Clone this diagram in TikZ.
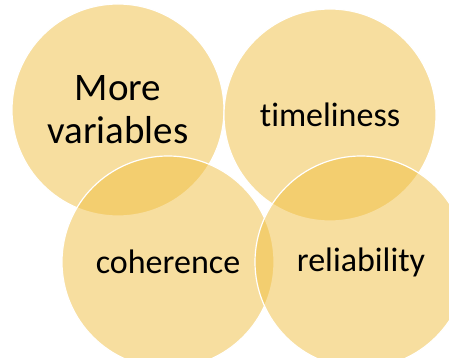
\documentclass[tikz,border=0pt]{standalone}
\usepackage{fontspec}
\setmainfont{Carlito}[Ligatures={NoCommon}]
\definecolor{gold}{RGB}{241,191,65}
\begin{document}
\begin{tikzpicture}[x=1pt,y=1pt]

        \clip (0,0) rectangle (449,358);
        \fill[white] (0,0) rectangle (449,358);

        \begin{scope}[every node/.style={circle,minimum size=212pt,inner sep=0pt,
            fill=gold,fill opacity=.5,text opacity=1,draw=white,draw opacity=1,
            line width=1.2pt,align=center,font=\fontsize{34}{37}\selectfont}]
          \node[font=\fontsize{39}{43}\selectfont] (more) at (118,248) {More\\variables};
          \node (time) at (330,243) {timeliness};
          \node (coh)  at (168,96)  {coherence};
          \node (rel)  at (361,96)  {reliability};
        \end{scope}

      \end{tikzpicture}
\end{document}
